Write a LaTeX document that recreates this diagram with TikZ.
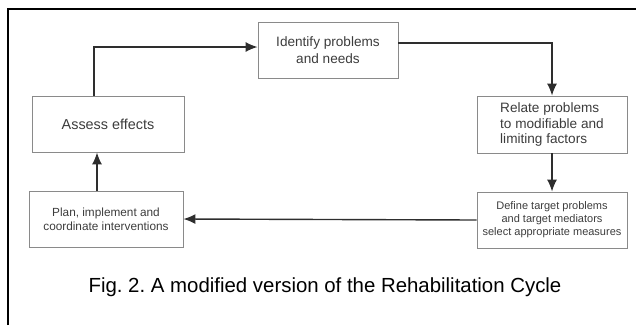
\documentclass[tikz,border=0pt]{standalone}
\usepackage{fontspec}
\setmainfont{Liberation Sans}
\usetikzlibrary{arrows.meta}
\definecolor{boxline}{HTML}{8A8A8A}
\definecolor{boxtext}{HTML}{3C3C3C}
\definecolor{arrowc}{HTML}{2E2E2E}
\frenchspacing
\begin{document}
\begin{tikzpicture}[x=1pt,y=-1pt,
  stepbox/.style={draw=boxline,line width=0.8pt,rectangle,inner sep=0pt,text=boxtext,align=center},
  conn/.style={draw=arrowc,line width=1.4pt,-{Latex[length=12pt,width=10pt]}}]
\useasboundingbox (0,0) rectangle (636,325);
\draw[line width=2pt,black] (8,325) -- (8,9) -- (636,9);
\node[stepbox,minimum width=140pt,minimum height=56pt,font=\fontsize{13.6}{16.5}\selectfont] (id) at (328,50) {Identify problems\\and needs};
\node[stepbox,minimum width=152pt,minimum height=56pt,font=\fontsize{14.4}{17}\selectfont] (as) at (108,124) {Assess effects};
\node[stepbox,minimum width=150pt,minimum height=57pt,font=\fontsize{13.6}{15.5}\selectfont,align=left] (re) at (552,124.5) {Relate problems\\to modifiable and\\limiting factors};
\node[stepbox,minimum width=150pt,minimum height=56pt,font=\fontsize{11}{13}\selectfont] (de) at (552,220) {Define target problems\\and target mediators\\select appropriate measures};
\node[stepbox,minimum width=154pt,minimum height=56pt,font=\fontsize{11.8}{14.3}\selectfont] (pl) at (106,219) {Plan, implement and\\coordinate interventions};
\node[font=\fontsize{20.4}{24}\selectfont,text=black] (cap) at (325,287) {Fig. 2. A modified version of the Rehabilitation Cycle};
\coordinate (c1) at (94,47);
\coordinate (c2) at (552,43);
\draw[conn] (as.north -| c1) -- (c1) -- (c1 -| id.west);
\draw[conn] (id.east |- c2) -- (c2) -- (re.north);
\draw[conn] (re.south) -- (de.north);
\draw[conn] (de.west) -- (pl.east);
\draw[conn] (pl.north -| 97,0) -- (as.south -| 97,0);
\end{tikzpicture}
\end{document}
